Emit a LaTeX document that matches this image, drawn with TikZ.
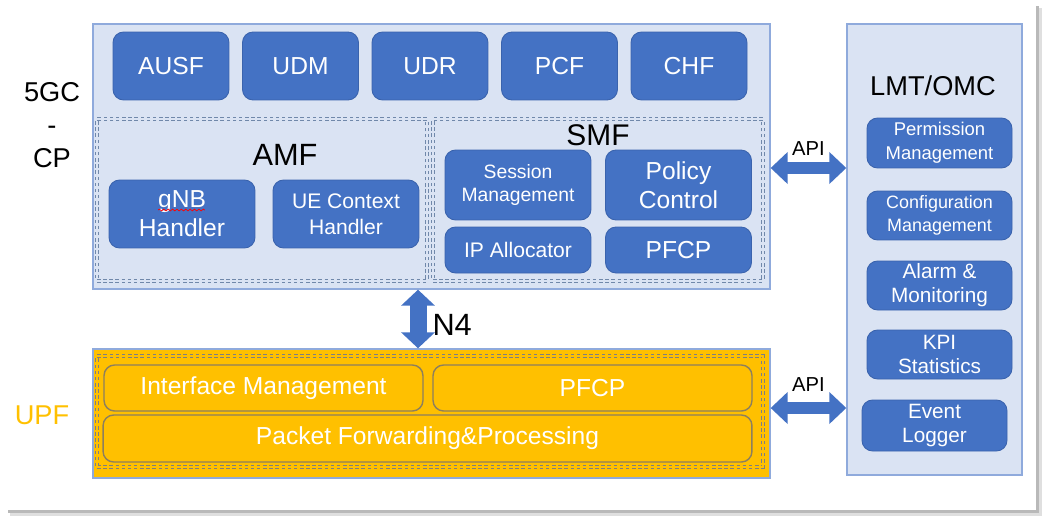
\documentclass[tikz,border=0pt]{standalone}
\usepackage{fontspec}
\setmainfont{Liberation Sans}
\usetikzlibrary{arrows.meta,decorations.pathmorphing}

\begin{document}
\begin{tikzpicture}[x=0.02cm,y=-0.02cm,
  nfbox/.style={rectangle,rounded corners=6pt,fill=nfblue,draw=nfline,line width=0.5pt,text=white,align=center,inner sep=1pt},
  grpbox/.style={rectangle,fill=paleblue,draw=frameblue,line width=0.8pt},
  dashbox/.style={rectangle,draw=dashgray,line width=0.45pt,dash pattern=on 2pt off 1.5pt,double=paleblue,double distance=1.2pt},
  upfbox/.style={rectangle,rounded corners=6pt,draw=upfline,line width=0.8pt,text=white,align=center,inner sep=1pt},
  n4arrow/.style={nfblue,line width=0.34cm,{Triangle[width=0.66cm,length=0.32cm]}-{Triangle[width=0.66cm,length=0.32cm]}},
  apiarrow/.style={nfblue,line width=0.25cm,{Triangle[width=0.62cm,length=0.34cm]}-{Triangle[width=0.62cm,length=0.34cm]}}]
\definecolor{nfblue}{HTML}{4472C4}
\definecolor{nfline}{HTML}{3A63AD}
\definecolor{paleblue}{HTML}{DAE3F3}
\definecolor{frameblue}{HTML}{8FAADC}
\definecolor{dashgray}{HTML}{7088AA}
\definecolor{upfyellow}{HTML}{FFC000}
\definecolor{upfline}{HTML}{8C7F5E}
\definecolor{upfdash}{HTML}{7F7F7F}
\useasboundingbox (0,0) rectangle (1050,524);
% shadow of the screenshot
\fill[gray!55] (1036,6) rectangle (1039,511);
\fill[gray!25] (1039,8) rectangle (1042,514);
\fill[gray!55] (8,510) rectangle (1039,513);
\fill[gray!25] (10,513) rectangle (1042,516);

% control plane
\node[grpbox,minimum width=13.54cm,minimum height=5.3cm] (cp) at (431.5,156.5) {};
\node[align=center,font=\fontsize{15.5}{18.7}\selectfont] (cplbl) at (52,125) {5GC\\-\\CP};
\foreach \nf/\pos in {AUSF/0,UDM/1,UDR/2,PCF/3,CHF/4}
  {\node[nfbox,minimum width=2.32cm,minimum height=1.36cm,font=\fontsize{14}{16}\selectfont] (\nf) at (171+129.5*\pos,66) {\nf};}
\node[dashbox,minimum width=6.6cm,minimum height=3.24cm] (amf) at (262,200) {};
\node[dashbox,minimum width=6.6cm,minimum height=3.24cm] (smf) at (598,200) {};
\node[font=\fontsize{17.5}{20}\selectfont] (amflbl) at (285,155) {AMF};
\node[font=\fontsize{17}{20}\selectfont] (smflbl) at (598,135) {SMF};
\node[nfbox,minimum width=2.92cm,minimum height=1.36cm,font=\fontsize{14}{16.5}\selectfont] (gnb) at (182,214) {gNB\\Handler};
\draw[red,decorate,decoration={snake,amplitude=0.5pt,segment length=2.5pt}] ([xshift=-0.48cm,yshift=0.08cm]gnb.center) -- ([xshift=0.46cm,yshift=0.08cm]gnb.center);
\node[nfbox,minimum width=2.92cm,minimum height=1.36cm,font=\fontsize{12}{14.8}\selectfont] (uectx) at (346,214) {UE Context\\Handler};
\node[nfbox,minimum width=2.92cm,minimum height=1.4cm,font=\fontsize{11}{13}\selectfont] (sess) at (518,185) {Session\\Management};
\node[nfbox,minimum width=2.92cm,minimum height=1.4cm,font=\fontsize{14}{16.5}\selectfont] (policy) at (678.5,185) {Policy\\Control};
\node[nfbox,minimum width=2.92cm,minimum height=0.92cm,font=\fontsize{12}{14}\selectfont] (ipalloc) at (518,250) {IP Allocator};
\node[nfbox,minimum width=2.92cm,minimum height=0.92cm,font=\fontsize{14}{16}\selectfont] (smfpfcp) at (678.5,250) {PFCP};

% management
\node[grpbox,minimum width=3.5cm,minimum height=9.02cm] (lmt) at (934.5,249.5) {};
\node[font=\fontsize{15.5}{18}\selectfont] (lmtlbl) at (933,86) {LMT/OMC};
\node[nfbox,minimum width=2.9cm,minimum height=1.0cm,font=\fontsize{10.5}{13.6}\selectfont] (perm) at (939.5,143) {Permission\\Management};
\node[nfbox,minimum width=2.9cm,minimum height=0.98cm,font=\fontsize{10.2}{13}\selectfont] (config) at (939.5,215.5) {Configuration\\Management};
\node[nfbox,minimum width=2.9cm,minimum height=0.98cm,font=\fontsize{11.8}{13.6}\selectfont] (alarm) at (939.5,285.5) {Alarm \&\\Monitoring};
\node[nfbox,minimum width=2.9cm,minimum height=0.98cm,font=\fontsize{11.8}{13.6}\selectfont] (kpi) at (939.5,354.5) {KPI\\Statistics};
\node[nfbox,minimum width=2.9cm,minimum height=1.02cm,font=\fontsize{11.8}{14}\selectfont] (event) at (934.5,425.5) {Event\\Logger};

% user plane
\node[rectangle,fill=upfyellow,draw=frameblue,line width=0.8pt,minimum width=13.54cm,minimum height=2.58cm] (upf) at (431.5,413.5) {};
\node[rectangle,draw=upfdash,line width=0.45pt,dash pattern=on 2pt off 1.5pt,double=upfyellow,double distance=1.2pt,minimum width=13.32cm,minimum height=2.22cm] (upfin) at (430,411.5) {};
\node[text=upfyellow,font=\fontsize{15.5}{18}\selectfont] (upflbl) at (42,415.5) {UPF};
\node[upfbox,minimum width=6.38cm,minimum height=0.92cm,font=\fontsize{14}{16}\selectfont] (ifmgmt) at (263.5,388) {Interface Management};
\node[upfbox,minimum width=6.38cm,minimum height=0.92cm,font=\fontsize{14}{16}\selectfont] (upfpfcp) at (592.5,388) {PFCP};
\node[upfbox,minimum width=12.98cm,minimum height=0.94cm,font=\fontsize{14}{16}\selectfont] (pktfwd) at (427.5,438.5) {Packet Forwarding\&Processing};

% interfaces
\draw[n4arrow] ([xshift=-0.27cm]cp.south) -- node[pos=0.6,anchor=west,xshift=0.12cm,inner sep=0pt,text=black,font=\fontsize{17.5}{20}\selectfont] (n4lbl) {N4} ([xshift=-0.27cm]upf.north);
\coordinate (apia) at ([yshift=-0.23cm]cp.east);
\coordinate (apib) at ([yshift=0.11cm]upf.east);
\draw[apiarrow] (apia) -- node[yshift=0.38cm,text=black,font=\fontsize{11.5}{13}\selectfont] (apiup) {API} (apia -| lmt.west);
\draw[apiarrow] (apib) -- node[yshift=0.46cm,text=black,font=\fontsize{11.5}{13}\selectfont] (apidown) {API} (apib -| lmt.west);
\end{tikzpicture}
\end{document}
